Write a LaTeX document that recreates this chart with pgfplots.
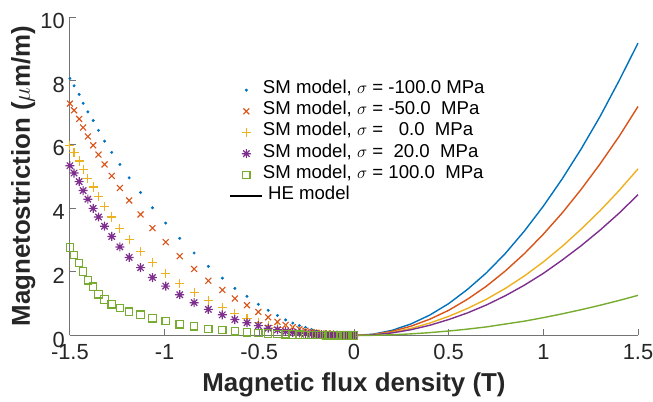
\documentclass[border=0pt]{standalone}
\usepackage{pgfplots}
\pgfplotsset{compat=1.18}
\usepackage{pgfplotstable}
\usepackage{fontspec}
\setmainfont{Liberation Sans}

\definecolor{mblue}{rgb}{0,0.447,0.741}
\definecolor{morange}{rgb}{0.85,0.325,0.098}
\definecolor{myellow}{rgb}{0.929,0.694,0.125}
\definecolor{mpurple}{rgb}{0.494,0.184,0.556}
\definecolor{mgreen}{rgb}{0.466,0.674,0.188}

% matlab style '*' marker (plus and cross on top of each other)
\pgfdeclareplotmark{mstar}{%
  \pgfpathmoveto{\pgfqpoint{-\pgfplotmarksize}{0pt}}\pgfpathlineto{\pgfqpoint{\pgfplotmarksize}{0pt}}%
  \pgfpathmoveto{\pgfqpoint{0pt}{-\pgfplotmarksize}}\pgfpathlineto{\pgfqpoint{0pt}{\pgfplotmarksize}}%
  \pgfpathmoveto{\pgfqpoint{-.7071\pgfplotmarksize}{-.7071\pgfplotmarksize}}\pgfpathlineto{\pgfqpoint{.7071\pgfplotmarksize}{.7071\pgfplotmarksize}}%
  \pgfpathmoveto{\pgfqpoint{-.7071\pgfplotmarksize}{.7071\pgfplotmarksize}}\pgfpathlineto{\pgfqpoint{.7071\pgfplotmarksize}{-.7071\pgfplotmarksize}}%
  \pgfusepathqstroke}

% SM model, B <= 0
\pgfplotstableread{
B      s1     s2     s3     s4     s5
-1.500 8.07   7.28   5.96   5.33   2.76
-1.478 7.84   7.07   5.75   5.10   2.53
-1.451 7.57   6.80   5.48   4.83   2.28
-1.430 7.29   6.53   5.20   4.55   2.01
-1.405 7.02   6.25   4.93   4.28   1.73
-1.377 6.75   5.97   4.66   3.99   1.53
-1.349 6.44   5.68   4.37   3.72   1.29
-1.317 6.10   5.37   4.05   3.43   1.13
-1.279 5.75   5.01   3.72   3.11   0.98
-1.236 5.37   4.63   3.36   2.78   0.86
-1.187 4.95   4.24   3.01   2.45   0.75
-1.127 4.49   3.80   2.63   2.13   0.65
-1.064 4.01   3.37   2.28   1.82   0.54
-0.994 3.53   2.93   1.94   1.55   0.46
-0.920 3.05   2.49   1.63   1.28   0.35
-0.844 2.59   2.09   1.34   1.03   0.29
-0.769 2.17   1.72   1.09   0.82   0.21
-0.695 1.80   1.43   0.88   0.65   0.17
-0.629 1.48   1.16   0.69   0.50   0.13
-0.565 1.23   0.95   0.54   0.40   0.10
-0.505 0.98   0.74   0.42   0.31   0.08
-0.453 0.79   0.57   0.31   0.23   0.06
-0.404 0.63   0.43   0.24   0.18   0.05
-0.361 0.49   0.33   0.18   0.13   0.04
-0.323 0.39   0.26   0.14   0.10   0.03
-0.288 0.31   0.20   0.11   0.08   0.025
-0.256 0.25   0.15   0.085  0.06   0.02
-0.224 0.19   0.11   0.065  0.045  0.015
-0.198 0.15   0.085  0.05   0.035  0.012
-0.172 0.115  0.065  0.038  0.026  0.009
-0.148 0.085  0.048  0.028  0.02   0.007
-0.127 0.062  0.035  0.021  0.015  0.005
-0.108 0.045  0.026  0.015  0.011  0.004
-0.090 0.032  0.018  0.011  0.008  0.003
-0.074 0.022  0.012  0.007  0.005  0.002
-0.058 0.014  0.008  0.005  0.003  0.001
-0.045 0.008  0.005  0.003  0.002  0.001
-0.032 0.004  0.002  0.001  0.001  0.0
-0.021 0.002  0.001  0.0    0.0    0.0
-0.011 0.001  0.0    0.0    0.0    0.0
 0.000 0.0    0.0    0.0    0.0    0.0
}\smdata

% HE model, B >= 0
\pgfplotstableread{
B    h1    h2    h3    h4    h5
0.0  0.0   0.0   0.0   0.0   0.0
0.1  0.04  0.03  0.025 0.02  0.006
0.2  0.16  0.13  0.10  0.08  0.022
0.3  0.36  0.29  0.22  0.18  0.05
0.4  0.64  0.51  0.39  0.32  0.09
0.5  1.00  0.79  0.60  0.50  0.14
0.6  1.45  1.14  0.85  0.71  0.20
0.7  1.97  1.55  1.14  0.96  0.27
0.8  2.58  2.03  1.48  1.25  0.36
0.9  3.28  2.57  1.87  1.58  0.45
1.0  4.06  3.18  2.31  1.95  0.56
1.1  4.92  3.85  2.80  2.37  0.68
1.2  5.86  4.59  3.34  2.82  0.81
1.3  6.88  5.39  3.92  3.31  0.95
1.4  8.00  6.25  4.55  3.84  1.10
1.5  9.18  7.19  5.23  4.42  1.26
}\hedata

\begin{document}
\begin{tikzpicture}
\begin{axis}[
    scale only axis,
    width=569bp, height=319bp,
    xmin=-1.5, xmax=1.5, ymin=0, ymax=10,
    clip=false,
    axis x line*=bottom, axis y line*=left,
    axis line style={black!55, line width=0.8bp},
    tick align=inside,
    major tick length=6bp,
    tick style={black!55, line width=0.8bp},
    xtick={-1.5,-1,-0.5,0,0.5,1,1.5},
    xticklabels={-1.5,-1,-0.5,0,0.5,1,1.5},
    ytick={0,2,4,6,8,10},
    yticklabels={0,2,4,6,8,10},
    xticklabel style={font=\fontsize{22}{24}\selectfont, text=black!85, inner sep=0pt, yshift=-9bp},
    yticklabel style={font=\fontsize{22}{24}\selectfont, text=black!85, inner sep=0pt, xshift=-5bp, yshift=-4bp},
    xlabel={Magnetic flux density (T)},
    ylabel={Magnetostriction ($\mu$m/m)},
    xlabel style={font=\fontsize{26}{28}\selectfont\bfseries, text=black!85, inner sep=0pt, at={(axis description cs:0.5,-0.176)}, anchor=base},
    ylabel style={font=\fontsize{26}{28}\selectfont\bfseries, text=black!85, inner sep=0pt, at={(axis description cs:-0.0703,0.5)}, anchor=base},
    legend image code/.code={\draw[mark repeat=2,mark phase=2] plot coordinates {(0bp,0bp)(16bp,0bp)(32bp,0bp)};},
    legend style={at={(axis cs:-0.657,8.04)}, anchor=north west, draw=none, fill=none,
        font=\fontsize{18.7}{22}\selectfont, inner sep=0pt, row sep=0pt,
        nodes={inner xsep=0pt, inner ysep=0pt, text height=14bp, text depth=7.2bp},
        legend cell align=left},
]
\addplot[only marks, mark=*, mark size=1.3bp, mblue] table[x=B, y=s1] {\smdata};
\addplot[only marks, mark=x, mark size=4.2bp, line width=1.1bp, morange] table[x=B, y=s2] {\smdata};
\addplot[only marks, mark=+, mark size=4.6bp, line width=1.2bp, myellow] table[x=B, y=s3] {\smdata};
\addplot[only marks, mark=mstar, mark size=4.5bp, line width=1.2bp, mpurple] table[x=B, y=s4] {\smdata};
\addplot[only marks, mark=square, mark size=3.7bp, line width=1.2bp, mgreen] table[x=B, y=s5] {\smdata};
\addlegendimage{black, line width=1.3bp, legend image code/.code={\draw (0bp,0bp) -- (32bp,0bp);}}
\legend{{SM model, $\sigma$ = -100.0 MPa},
        {SM model, $\sigma$ = -50.0\ \ MPa},
        {SM model, $\sigma$ =\ \ \ 0.0\ \ MPa},
        {SM model, $\sigma$ =\ \ 20.0\ \ MPa},
        {SM model, $\sigma$ = 100.0\ \ MPa},
        {\ HE model}}
\addplot[no marks, line width=1.4bp, mblue, forget plot] table[x=B, y=h1] {\hedata};
\addplot[no marks, line width=1.4bp, morange, forget plot] table[x=B, y=h2] {\hedata};
\addplot[no marks, line width=1.4bp, myellow, forget plot] table[x=B, y=h3] {\hedata};
\addplot[no marks, line width=1.4bp, mpurple, forget plot] table[x=B, y=h4] {\hedata};
\addplot[no marks, line width=1.4bp, mgreen, forget plot] table[x=B, y=h5] {\hedata};
\end{axis}
\pgfresetboundingbox
\path[use as bounding box] ([xshift=-70bp,yshift=-66bp]current axis.south west) rectangle ([xshift=15bp,yshift=17bp]current axis.north east);
\end{tikzpicture}
\end{document}
